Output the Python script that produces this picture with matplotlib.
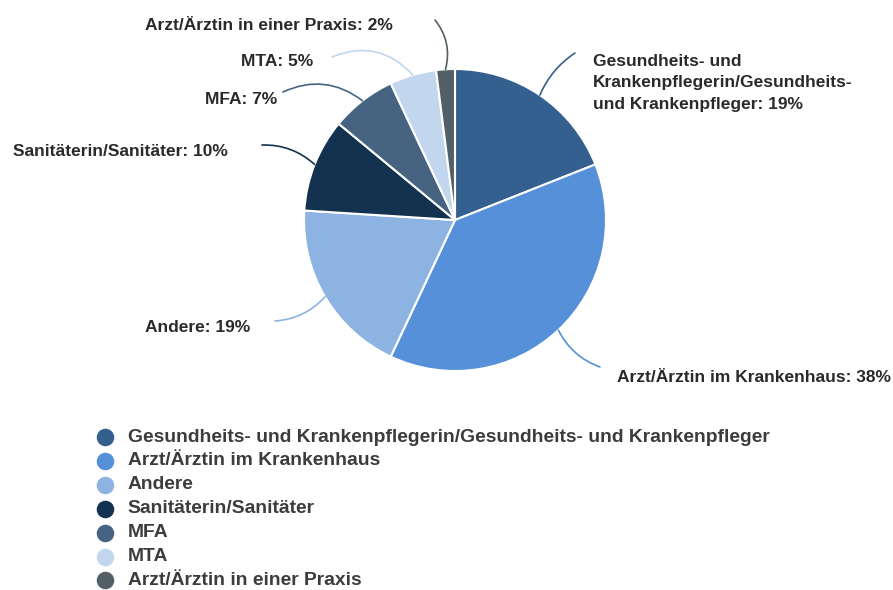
import numpy as np
import matplotlib.pyplot as plt

# data
labels = ['Gesundheits- und Krankenpflegerin/Gesundheits- und Krankenpfleger',
          'Arzt/Ärztin im Krankenhaus', 'Andere', 'Sanitäterin/Sanitäter',
          'MFA', 'MTA', 'Arzt/Ärztin in einer Praxis']
label_text = ['Gesundheits- und\nKrankenpflegerin/Gesundheits-\nund Krankenpfleger: 19%',
              'Arzt/Ärztin im Krankenhaus: 38%', 'Andere: 19%',
              'Sanitäterin/Sanitäter: 10%', 'MFA: 7%', 'MTA: 5%',
              'Arzt/Ärztin in einer Praxis: 2%']
shares = [19, 38, 19, 10, 7, 5, 2]
colors = ['#34608f', '#5590d8', '#8db3e2', '#12324f', '#466482', '#c2d6ee', '#535f66']

W, H = 893, 590
fig = plt.figure(figsize=(W / 100, H / 100), dpi=100)
ax = fig.add_axes([0, 0, 1, 1])

plt.rcParams['font.family'] = ['Liberation Sans', 'DejaVu Sans']

cx, cy, r = 455, H - 220, 151
wedges, _ = ax.pie(shares, colors=colors, startangle=90, counterclock=False,
                   center=(cx, cy), radius=r, frame=True,
                   wedgeprops=dict(edgecolor='white', linewidth=1.5))
ax.set_xlim(0, W)
ax.set_ylim(0, H)
ax.set_aspect('equal')
ax.axis('off')

# label placement (pixel coords from top): text anchor, ha, leader end, curvature
lab_pos = [
    (593, 83, 'left', (575, 53), 0.15),
    (617, 377, 'left', (600, 367), -0.2),
    (250, 327, 'right', (275, 321), 0.2),
    (228, 151, 'right', (262, 145), -0.2),
    (277, 99, 'right', (283, 92), -0.3),
    (313, 62, 'right', (332, 57), -0.35),
    (393, 25, 'right', (435, 20), -0.25),
]

for w, txt, (tx, ty, ha, end, rad) in zip(wedges, label_text, lab_pos):
    ang = np.deg2rad((w.theta1 + w.theta2) / 2)
    px, py = cx + r * np.cos(ang), cy + r * np.sin(ang)
    ax.annotate('', xy=(px, py), xytext=(end[0], H - end[1]),
                arrowprops=dict(arrowstyle='-', color=w.get_facecolor(), lw=1.2,
                                shrinkA=0, shrinkB=0,
                                connectionstyle='arc3,rad=%s' % rad))
    ax.text(tx, H - ty, txt, ha=ha, va='center', fontsize=12.5, fontweight='bold',
            color='#2a2a2a', linespacing=1.55)

# legend
for i, (lab, c) in enumerate(zip(labels, colors)):
    y = H - (437 + i * 23.9)
    ax.scatter([105], [y], s=135, color=c, zorder=3)
    ax.text(128, y, lab, ha='left', va='center', fontsize=13.9, fontweight='bold',
            color='#3c3c3c')

fig.savefig('out.png', dpi=100)
